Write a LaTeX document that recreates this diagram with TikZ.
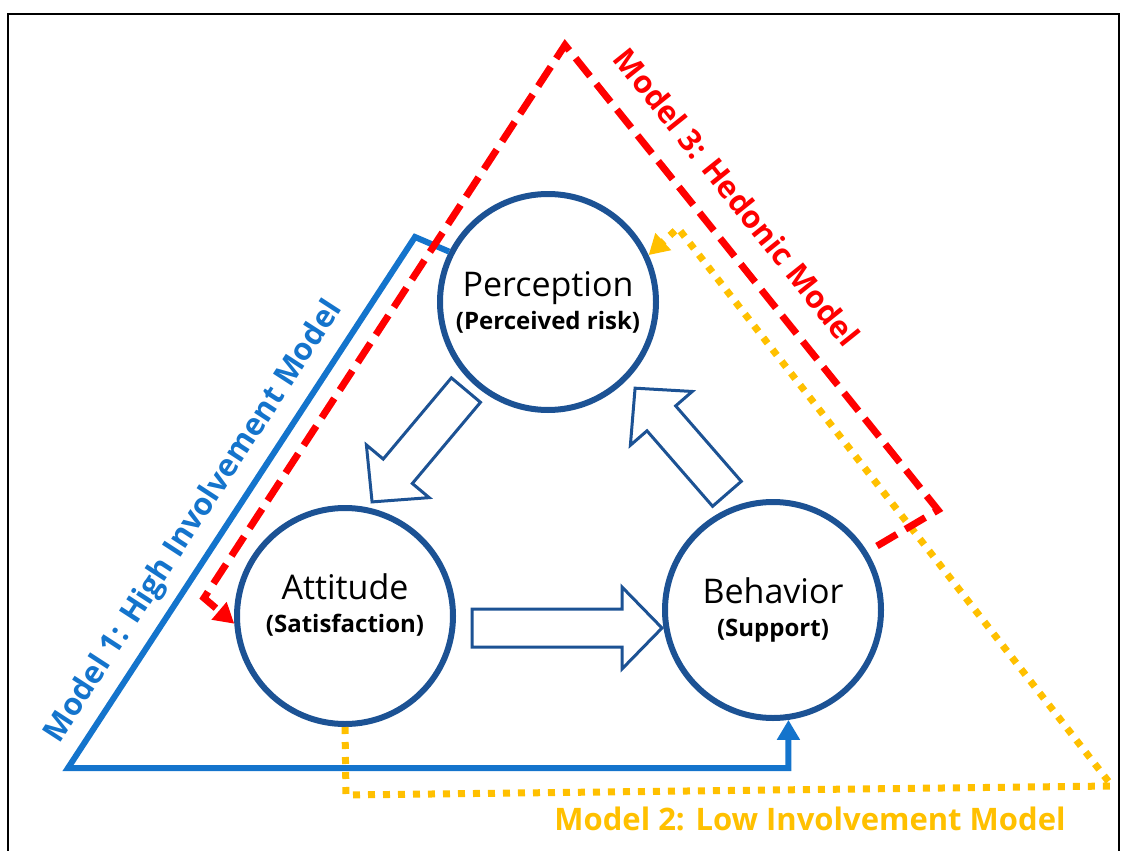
\documentclass[tikz,border=0pt]{standalone}
\usepackage{fontspec}
\setmainfont{Open Sans}
\usetikzlibrary{arrows.meta}

\definecolor{stageblue}{RGB}{28,82,148}
\definecolor{highblue}{RGB}{20,116,204}
\definecolor{hedred}{RGB}{255,0,0}
\definecolor{lowyellow}{RGB}{255,192,0}

\newcommand{\flowarrow}[3]{%
  \draw[flow, shift={#1}, rotate=#2]
    (-#3,-19) -- (#3-40,-19) -- (#3-40,-41) -- (#3,0)
    -- (#3-40,41) -- (#3-40,19) -- (-#3,19) -- cycle;}

\begin{document}
\begin{tikzpicture}[x=1pt, y=-1pt,
  stage/.style = {circle, draw=stageblue, line width=6pt, minimum size=216pt,
    inner sep=0pt, align=center, font=\fontsize{24}{33}\selectfont},
  flow/.style = {draw=stageblue, line width=3pt, fill=white},
  headed/.style = {-{Triangle[length=20pt,width=22pt]}},
  highline/.style = {draw=highblue, line width=6pt, headed},
  lowline/.style = {draw=lowyellow, line width=7pt, dash pattern=on 7pt off 8pt, headed},
  hedline/.style = {draw=hedred, line width=7pt, dash pattern=on 23pt off 10pt, headed},
  modellabel/.style = {font=\fontsize{31}{34}\selectfont\bfseries, inner sep=0pt}]
  \useasboundingbox (0,0) rectangle (1124,851);
  \draw[line width=2pt] (8,851) -- (8,14) -- (1119,14) -- (1119,851);

  \node[stage] (per) at (548,302)
    {{\fontsize{34}{33}\selectfont Perception}\\\textbf{(Perceived risk)}};
  \node[stage] (att) at (345,616)
    {{\fontsize{34}{33}\selectfont Attitude}\\\textbf{(Satisfaction)}\rule[-26pt]{0pt}{1pt}};
  \node[stage] (beh) at (773,610)
    {{\fontsize{34}{33}\selectfont Behavior}\\\textbf{(Support)}};

  \flowarrow{(419,446)}{230}{73}
  \flowarrow{(567,628)}{0}{95}
  \flowarrow{(681,441)}{131}{70}

  \coordinate (hi1) at (415,237);
  \coordinate (hi2) at (68,768);
  \draw[highline] (per.153) -- (hi1) -- (hi2) -| (beh.-82);

  \coordinate (lo1) at (346,795);
  \coordinate (lo2) at (1112,786);
  \coordinate (lo3) at (678,228);
  \draw[lowline] (att.south) -- (lo1) -- (lo2) -- (lo3) -- (per.25);

  \coordinate (he0) at (877,546);
  \coordinate (he1) at (938,510);
  \coordinate (he2) at (565,45);
  \coordinate (he3) at (204,598);
  \draw[hedline] (he0) -- (he1) -- (he2) -- (he3) -- (att.184);

  \node[modellabel, text=highblue, rotate=57] (m1) at (194,522) {Model 1: High Involvement Model};
  \node[modellabel, text=hedred, rotate=-51.3] (m3) at (737,197) {Model 3: Hedonic Model};
  \node[modellabel, text=lowyellow] (m2) at (810,819) {Model 2: Low Involvement Model};
\end{tikzpicture}
\end{document}
